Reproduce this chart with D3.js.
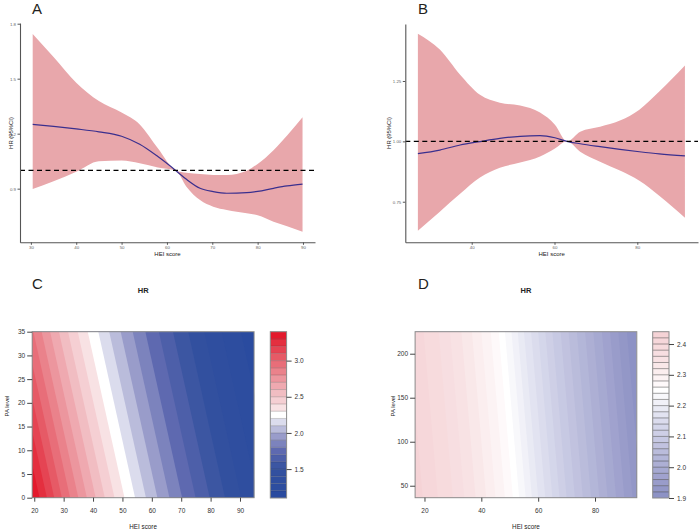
<!DOCTYPE html>
<html>
<head>
<meta charset="utf-8">
<script src="https://cdn.jsdelivr.net/npm/d3@7"></script>
<style>
  body { margin: 0; background: #fff; }
  svg { display: block; font-family: "Liberation Sans", Arial, sans-serif; }
</style>
</head>
<body>
<svg id="chart" width="700" height="530"></svg>
<script>
// ---- Panel A: HR curve vs HEI score ----
const heiA   = [30.4, 35, 40, 45, 50, 54, 58, 62, 64.3, 67.3, 70.2, 73.2, 77.6, 80, 83.5, 86.5, 89.9];
const upperA = [1.744, 1.618, 1.478, 1.378, 1.315, 1.25, 1.12, 0.998, 0.987, 0.98, 0.975, 0.975, 0.998, 1.035, 1.11, 1.19, 1.29];
const lowerA = [0.898, 0.94, 0.992, 1.05, 1.053, 1.038, 1.016, 0.998, 0.911, 0.838, 0.802, 0.784, 0.766, 0.755, 0.72, 0.695, 0.665];
const hrA    = [1.251, 1.24, 1.226, 1.21, 1.186, 1.142, 1.075, 0.998, 0.951, 0.902, 0.884, 0.875, 0.878, 0.885, 0.902, 0.915, 0.925];
const xTicksA = [30, 40, 50, 60, 70, 80, 90];
const yTicksA = [0.9, 1.2, 1.5, 1.8];

// ---- Panel B ----
const heiB   = [27, 32.3, 37.2, 42, 46.8, 51.7, 56.5, 60.1, 63, 66.2, 71, 75.8, 80.5, 85.3, 91.5];
const upperB = [1.446, 1.38, 1.276, 1.193, 1.16, 1.148, 1.119, 1.069, 1.0, 1.04, 1.061, 1.086, 1.131, 1.206, 1.314];
const lowerB = [0.63, 0.709, 0.783, 0.85, 0.891, 0.912, 0.937, 0.97, 1.0, 0.957, 0.916, 0.879, 0.837, 0.775, 0.684];
const hrB    = [0.949, 0.964, 0.985, 0.999, 1.012, 1.021, 1.024, 1.015, 1.0, 0.99, 0.978, 0.967, 0.957, 0.948, 0.94];
const xTicksB = [40, 60, 80];
const yTicksB = [0.75, 1.00, 1.25];

// ---- Panel C: contour boundaries (HEI where each HR level crosses PA = 0 and PA = 35) ----
const breaksC  = [1.1, 1.2, 1.3, 1.4, 1.5, 1.6, 1.7, 1.8, 1.9, 2.0, 2.1, 2.2, 2.3, 2.4, 2.5, 2.6, 2.7, 2.8, 2.9, 3.0, 3.1, 3.2, 3.3, 3.4];
const heiC_lo  = [102.8, 96.3, 90.4, 84.9, 79.7, 74.9, 70.3, 66.0, 61.9, 58.0, 54.3, 50.7, 47.3, 44.0, 40.9, 37.9, 35.0, 32.2, 29.4, 26.8, 24.3, 21.8];
const heiC_hi  = [90.3, 83.8, 77.9, 72.4, 67.2, 62.4, 57.8, 53.5, 49.4, 45.5, 41.8, 38.2, 34.8, 31.5, 28.4, 25.4, 22.5, 19.7, 16.9, 14.3, 11.8, 9.3];
const xTicksC = [20, 30, 40, 50, 60, 70, 80, 90];
const yTicksC = [0, 5, 10, 15, 20, 25, 30, 35];
const barTicksC = [1.5, 2.0, 2.5, 3.0];

// ---- Panel D ----
const breaksD = [1.90, 1.92, 1.94, 1.96, 1.98, 2.00, 2.02, 2.04, 2.06, 2.08, 2.10, 2.12, 2.14, 2.16, 2.18,
                 2.20, 2.22, 2.24, 2.26, 2.28, 2.30, 2.32, 2.34, 2.36, 2.38, 2.40, 2.42, 2.44];
const heiD_lo = [96.2, 93.2, 90.3, 87.4, 84.4, 81.5, 78.6, 75.7, 72.9, 70.0, 67.5, 65.0, 62.5, 60.0,
                 57.8, 55.6, 53.3, 51.1, 48.3, 45.0, 41.7, 38.0, 34.0, 30.0, 24.7, 19.4];
const heiD_hi = [91.2, 88.2, 85.3, 82.4, 79.4, 76.5, 73.6, 70.7, 67.9, 65.0, 62.5, 60.0, 57.5, 55.0,
                 52.8, 50.6, 48.3, 46.1, 43.3, 40.0, 36.7, 33.0, 29.0, 25.0, 19.7, 14.4];
const xTicksD = [20, 40, 60, 80];
const yTicksD = [50, 100, 150, 200];
const barTicksD = [1.9, 2.0, 2.1, 2.2, 2.3, 2.4];

const svg = d3.select('#chart');

// shared HR colour ramp (blue - white - red)
const hrColor = d3.scaleLinear()
    .domain([1.15, 1.5, 1.75, 1.95, 2.15, 2.25, 2.35, 2.55, 2.75, 3.05, 3.35])
    .range(['#2A4B9F', '#33519F', '#5E69B0', '#999CCA', '#DBDCED', '#FFFFFF',
            '#F8E2E4', '#F1BDC2', '#EC969E', '#E65A66', '#E3192C'])
    .clamp(true);

function panelLetter(label, x, y) {
    svg.append('text')
        .attr('x', x).attr('y', y)
        .attr('font-size', 15)
        .attr('fill', '#231F20')
        .text(label);
}

// Draw a spline HR panel with CI band
function drawCurvePanel(cfg) {
    const x = d3.scaleLinear().domain(cfg.xDomain).range(cfg.xRange);
    const y = d3.scaleLinear().domain(cfg.yDomain).range(cfg.yRange);
    const rows = cfg.hei.map((h, i) => ({ hei: h, hi: cfg.upper[i], lo: cfg.lower[i], hr: cfg.hr[i] }));
    const g = svg.append('g');

    g.append('path')
        .datum(rows)
        .attr('fill', '#E8A7AB')
        .attr('d', d3.area()
            .x(d => x(d.hei)).y0(d => y(d.lo)).y1(d => y(d.hi))
            .curve(d3.curveMonotoneX));

    g.append('path')
        .datum(rows)
        .attr('fill', 'none')
        .attr('stroke', '#3A2F8E')
        .attr('stroke-width', 1.2)
        .attr('d', d3.line().x(d => x(d.hei)).y(d => y(d.hr)).curve(d3.curveMonotoneX));

    g.append('line')
        .attr('x1', cfg.xRange[0]).attr('x2', cfg.xRange[1])
        .attr('y1', y(1)).attr('y2', y(1))
        .attr('stroke', '#000')
        .attr('stroke-width', 1.4)
        .attr('stroke-dasharray', '5,3.5');

    const xAxis = g.append('g')
        .attr('transform', `translate(0,${cfg.yRange[0]})`)
        .call(d3.axisBottom(x).tickValues(cfg.xTicks).tickSize(2.5).tickSizeOuter(0).tickPadding(1.5));
    const yAxis = g.append('g')
        .attr('transform', `translate(${cfg.xRange[0]},0)`)
        .call(d3.axisLeft(y).tickValues(cfg.yTicks).tickFormat(cfg.yFormat).tickSize(2.5).tickSizeOuter(0).tickPadding(1.5));
    [xAxis, yAxis].forEach(a => {
        a.select('.domain').attr('stroke', '#555').attr('stroke-width', 1.1);
        a.selectAll('.tick line').attr('stroke', '#555');
        a.selectAll('.tick text').attr('fill', '#666').attr('font-size', 4.4)
            .attr('font-family', '"Liberation Sans", Arial, sans-serif');
    });

    g.append('text')
        .attr('x', (cfg.xRange[0] + cfg.xRange[1]) / 2).attr('y', cfg.yRange[0] + 14)
        .attr('text-anchor', 'middle')
        .attr('font-size', 6)
        .attr('fill', '#222')
        .text('HEI score');

    g.append('text')
        .attr('transform', `translate(${cfg.yLabelX},133) rotate(-90)`)
        .attr('text-anchor', 'middle')
        .attr('font-size', 5.9)
        .attr('fill', '#222')
        .text('HR (95%CI)');
}

// Draw a filled contour panel with its colour key
function drawContourPanel(cfg) {
    const x = d3.scaleLinear().domain(cfg.xDomain).range(cfg.xRange);
    const y = d3.scaleLinear().domain(cfg.yDomain).range(cfg.yRange);
    const g = svg.append('g');
    const left = cfg.xRange[0], right = cfg.xRange[1];
    const top = cfg.yRange[1], bottom = cfg.yRange[0];

    g.append('clipPath').attr('id', cfg.id + '-clip')
        .append('rect')
        .attr('x', left).attr('y', top)
        .attr('width', right - left).attr('height', bottom - top);

    const plot = g.append('g').attr('clip-path', `url(#${cfg.id}-clip)`);
    const mid = i => (cfg.breaks[i] + cfg.breaks[i + 1]) / 2;

    // lowest band fills the whole box, then each higher level on top of it
    plot.append('rect')
        .attr('x', left).attr('y', top)
        .attr('width', right - left).attr('height', bottom - top)
        .attr('fill', hrColor(mid(0)));

    cfg.heiLo.forEach((h, k) => {
        const pts = [
            [left - 300, y(cfg.yDomain[0])],
            [x(h), y(cfg.yDomain[0])],
            [x(cfg.heiHi[k]), y(cfg.yDomain[1])],
            [left - 300, y(cfg.yDomain[1])]
        ];
        plot.append('path')
            .attr('d', 'M' + pts.join('L') + 'Z')
            .attr('fill', hrColor(mid(k + 1)));
    });

    g.append('rect')
        .attr('x', left).attr('y', top)
        .attr('width', right - left).attr('height', bottom - top)
        .attr('fill', 'none').attr('stroke', '#8a8a8a').attr('stroke-width', 1);

    const xAxis = g.append('g')
        .attr('transform', `translate(0,${bottom})`)
        .call(d3.axisBottom(x).tickValues(cfg.xTicks).tickSize(4).tickSizeOuter(0).tickPadding(7));
    const yAxis = g.append('g')
        .attr('transform', `translate(${left},0)`)
        .call(d3.axisLeft(y).tickValues(cfg.yTicks).tickSize(5).tickSizeOuter(0).tickPadding(2));

    // colour key
    const bar = d3.scaleLinear()
        .domain([cfg.breaks[0], cfg.breaks[cfg.breaks.length - 1]])
        .range([bottom + 0.3, top]);
    const key = g.append('g');
    key.selectAll('rect.band')
        .data(d3.range(cfg.breaks.length - 1))
        .join('rect')
        .attr('class', 'band')
        .attr('x', cfg.barX).attr('width', 16.3)
        .attr('y', i => bar(cfg.breaks[i + 1]))
        .attr('height', i => bar(cfg.breaks[i]) - bar(cfg.breaks[i + 1]))
        .attr('fill', i => hrColor(mid(i)));
    key.selectAll('line.sep')
        .data(cfg.breaks.slice(1, -1))
        .join('line')
        .attr('class', 'sep')
        .attr('x1', cfg.barX).attr('x2', cfg.barX + 16.3)
        .attr('y1', d => bar(d)).attr('y2', d => bar(d))
        .attr('stroke', '#222').attr('stroke-width', 0.6).attr('stroke-opacity', cfg.sepOpacity);
    key.append('rect')
        .attr('x', cfg.barX).attr('y', top)
        .attr('width', 16.3).attr('height', bottom + 0.3 - top)
        .attr('fill', 'none').attr('stroke', '#8a8a8a');
    const barAxis = key.append('g')
        .attr('transform', `translate(${cfg.barX + 16.3},0)`)
        .call(d3.axisRight(bar).tickValues(cfg.barTicks).tickFormat(d3.format('.1f')).tickSize(5).tickSizeOuter(0).tickPadding(3));

    [xAxis, yAxis, barAxis].forEach(a => {
        a.select('.domain').remove();
        a.selectAll('.tick line').attr('stroke', '#444');
        a.selectAll('.tick text').attr('fill', '#333').attr('font-size', 6.5)
            .attr('font-family', '"Liberation Sans", Arial, sans-serif');
    });

    const cx = (left + right) / 2;
    g.append('text')
        .attr('x', cx).attr('y', 293)
        .attr('text-anchor', 'middle')
        .attr('font-size', 7.5).attr('font-weight', 'bold')
        .attr('fill', '#222')
        .text('HR');
    g.append('text')
        .attr('x', cx).attr('y', 528.5)
        .attr('text-anchor', 'middle')
        .attr('font-size', 6.3)
        .attr('fill', '#222')
        .text('HEI score');
    g.append('text')
        .attr('transform', `translate(${cfg.yLabelX},406) rotate(-90)`)
        .attr('text-anchor', 'middle')
        .attr('font-size', 5.9)
        .attr('fill', '#222')
        .text('PA level');
}

drawCurvePanel({
    hei: heiA, upper: upperA, lower: lowerA, hr: hrA,
    xDomain: [27.6, 92.65], xRange: [20, 315],
    yDomain: [0.6074, 1.8038], yRange: [242.3, 23],
    xTicks: xTicksA, yTicks: yTicksA, yFormat: d3.format('.1f'),
    yLabelX: 13
});

drawCurvePanel({
    hei: heiB, upper: upperB, lower: lowerB, hr: hrB,
    xDomain: [23.96, 94.66], xRange: [405.3, 698],
    yDomain: [0.582, 1.486], yRange: [242.3, 24],
    xTicks: xTicksB, yTicks: yTicksB, yFormat: d3.format('.2f'),
    yLabelX: 390.5
});

drawContourPanel({
    id: 'pc',
    breaks: breaksC, heiLo: heiC_lo, heiHi: heiC_hi,
    xDomain: [19.3, 94.8], xRange: [32.2, 254.1],
    yDomain: [0, 35], yRange: [497.7, 331.7],
    xTicks: xTicksC, yTicks: yTicksC, barTicks: barTicksC,
    barX: 270.3, sepOpacity: 0.35, yLabelX: 8.5
});

drawContourPanel({
    id: 'pd',
    breaks: breaksD, heiLo: heiD_lo, heiHi: heiD_hi,
    xDomain: [16.7, 94.7], xRange: [415.1, 636.8],
    yDomain: [36.4, 225], yRange: [497.7, 331.7],
    xTicks: xTicksD, yTicks: yTicksD, barTicks: barTicksD,
    barX: 652.7, sepOpacity: 0.7, yLabelX: 394.5
});

panelLetter('A', 32, 14);
panelLetter('B', 418, 13.5);
panelLetter('C', 32, 289);
panelLetter('D', 418, 289);
</script>
</body>
</html>
